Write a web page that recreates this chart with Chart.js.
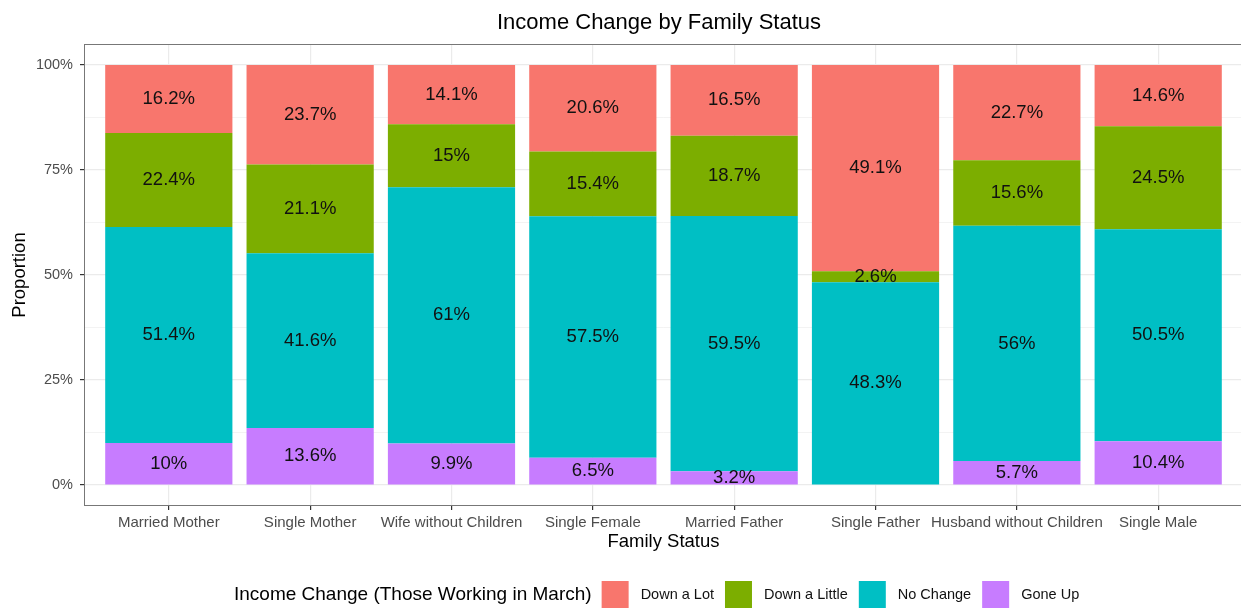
<!DOCTYPE html>
<html>
<head>
<meta charset="utf-8">
<script src="https://cdn.jsdelivr.net/npm/chart.js@4.4.1/dist/chart.umd.min.js"></script>
<style>
  html, body { margin: 0; padding: 0; background: #fff; overflow: hidden; }
</style>
</head>
<body>
<canvas id="chart" width="1245" height="608"></canvas>
<script>
// values as printed on the bars (percent of each family status group)
const categories = [
  "Married Mother", "Single Mother", "Wife without Children", "Single Female",
  "Married Father", "Single Father", "Husband without Children", "Single Male"
];
const goneUp     = [10,   13.6,  9.9,  6.5,  3.2,  0,    5.7,  10.4];
const noChange   = [51.4, 41.6,  61,   57.5, 59.5, 48.3, 56,   50.5];
const downLittle = [22.4, 21.1,  15,   15.4, 18.7, 2.6,  15.6, 24.5];
const downLot    = [16.2, 23.7,  14.1, 20.6, 16.5, 49.1, 22.7, 14.6];
const yTicks = [0, 25, 50, 75, 100];

const FONT = '"Liberation Sans", Arial, Helvetica, sans-serif';

// stacked bottom to top, like ggplot's fill order
const series = [
  { name: "Gone Up",       values: goneUp,     color: "#C77CFF" },
  { name: "No Change",     values: noChange,   color: "#00BFC4" },
  { name: "Down a Little", values: downLittle, color: "#7CAE00" },
  { name: "Down a Lot",    values: downLot,    color: "#F8766D" },
];

// position = "fill": every bar is scaled to 100%
const totals = categories.map((c, i) => series.reduce((s, d) => s + d.values[i], 0));

const datasets = series.map(s => ({
  label: s.name,
  data: s.values.map((v, i) => ({ x: i + 1, y: v / totals[i] * 100 })),
  backgroundColor: s.color,
  borderWidth: 0,
  barPercentage: 0.9,
  categoryPercentage: 1,
}));

// minor y grid half way between the major ticks
const yGrid = [];
yTicks.forEach((t, i) => {
  yGrid.push(t);
  if (i < yTicks.length - 1) yGrid.push((t + yTicks[i + 1]) / 2);
});
const isMajor = v => yTicks.includes(v);

const barLabels = {
  id: "barLabels",
  afterDatasetsDraw(chart) {
    const ctx = chart.ctx;
    ctx.save();
    ctx.font = "18.5px " + FONT;
    ctx.fillStyle = "#111";
    ctx.textAlign = "center";
    ctx.textBaseline = "middle";
    chart.data.datasets.forEach((ds, i) => {
      const meta = chart.getDatasetMeta(i);
      meta.data.forEach((el, j) => {
        const raw = series[i].values[j];
        if (!raw) return;
        const { x, y, base } = el.getProps(["x", "y", "base"], true);
        ctx.fillText(raw + "%", x, (y + base) / 2);
      });
    });
    ctx.restore();
  }
};

const frame = {
  id: "frame",
  afterDraw(chart) {
    const { ctx, chartArea: a } = chart;
    ctx.save();
    // panel border
    ctx.strokeStyle = "#777";
    ctx.lineWidth = 1;
    ctx.strokeRect(a.left + 0.5, a.top + 0.5, a.right - a.left - 1, a.bottom - a.top - 1);

    // title
    ctx.fillStyle = "#000";
    ctx.font = "22px " + FONT;
    ctx.textAlign = "center";
    ctx.textBaseline = "alphabetic";
    ctx.fillText("Income Change by Family Status", 659, 29);

    // legend, laid out left to right
    let x = 234;
    const cy = 595;
    ctx.textAlign = "left";
    ctx.textBaseline = "middle";
    ctx.font = "19px " + FONT;
    const title = "Income Change (Those Working in March)";
    ctx.fillText(title, x, cy);
    x += ctx.measureText(title).width + 10;
    ctx.font = "14.5px " + FONT;
    series.slice().reverse().forEach(s => {
      ctx.fillStyle = s.color;
      ctx.fillRect(x, 581, 27, 27);
      ctx.fillStyle = "#111";
      ctx.fillText(s.name, x + 39, cy);
      x += 39 + ctx.measureText(s.name).width + 11;
    });
    ctx.restore();
  }
};

new Chart(document.getElementById("chart"), {
  type: "bar",
  data: { datasets },
  plugins: [barLabels, frame],
  options: {
    responsive: false,
    animation: false,
    devicePixelRatio: 1,
    layout: { padding: { top: 44, right: 2, left: 0, bottom: 0 } },
    plugins: {
      legend: { display: false },
      title: { display: false },
      tooltip: { enabled: false },
    },
    scales: {
      x: {
        type: "linear",
        stacked: true,
        offset: false,
        min: 0.4,
        max: 8.6,
        afterBuildTicks: s => { s.ticks = categories.map((c, i) => ({ value: i + 1 })); },
        afterFit: s => { s.height = 102; },
        ticks: {
          autoSkip: false,
          maxRotation: 0,
          padding: 4,
          color: "#4d4d4d",
          font: { family: FONT, size: 15 },
          callback: v => categories[Math.round(v) - 1] || "",
        },
        grid: { offset: false, color: "#EBEBEB", lineWidth: 1.2, tickLength: 4, tickColor: "#333" },
        border: { display: false },
        title: {
          display: true,
          text: "Family Status",
          color: "#000",
          font: { family: FONT, size: 18.5 },
          padding: { top: 0, bottom: 55 },
        },
      },
      y: {
        stacked: true,
        min: -5,
        max: 105,
        afterBuildTicks: s => { s.ticks = yGrid.map(v => ({ value: v })); },
        afterFit: s => { s.width = 84; },
        ticks: {
          autoSkip: false,
          padding: 7,
          color: "#4d4d4d",
          font: { family: FONT, size: 14.5 },
          callback: v => isMajor(v) ? v + "%" : "",
        },
        grid: {
          color: "#EBEBEB",
          lineWidth: c => (c.tick && isMajor(c.tick.value)) ? 1.2 : 0.6,
          tickLength: 4,
          tickColor: c => (c.tick && isMajor(c.tick.value)) ? "#333" : "rgba(0,0,0,0)",
        },
        border: { display: false },
        title: {
          display: true,
          text: "Proportion",
          color: "#000",
          font: { family: FONT, size: 18.5 },
          padding: { top: 9, bottom: 0 },
        },
      },
    },
  },
});
</script>
</body>
</html>
